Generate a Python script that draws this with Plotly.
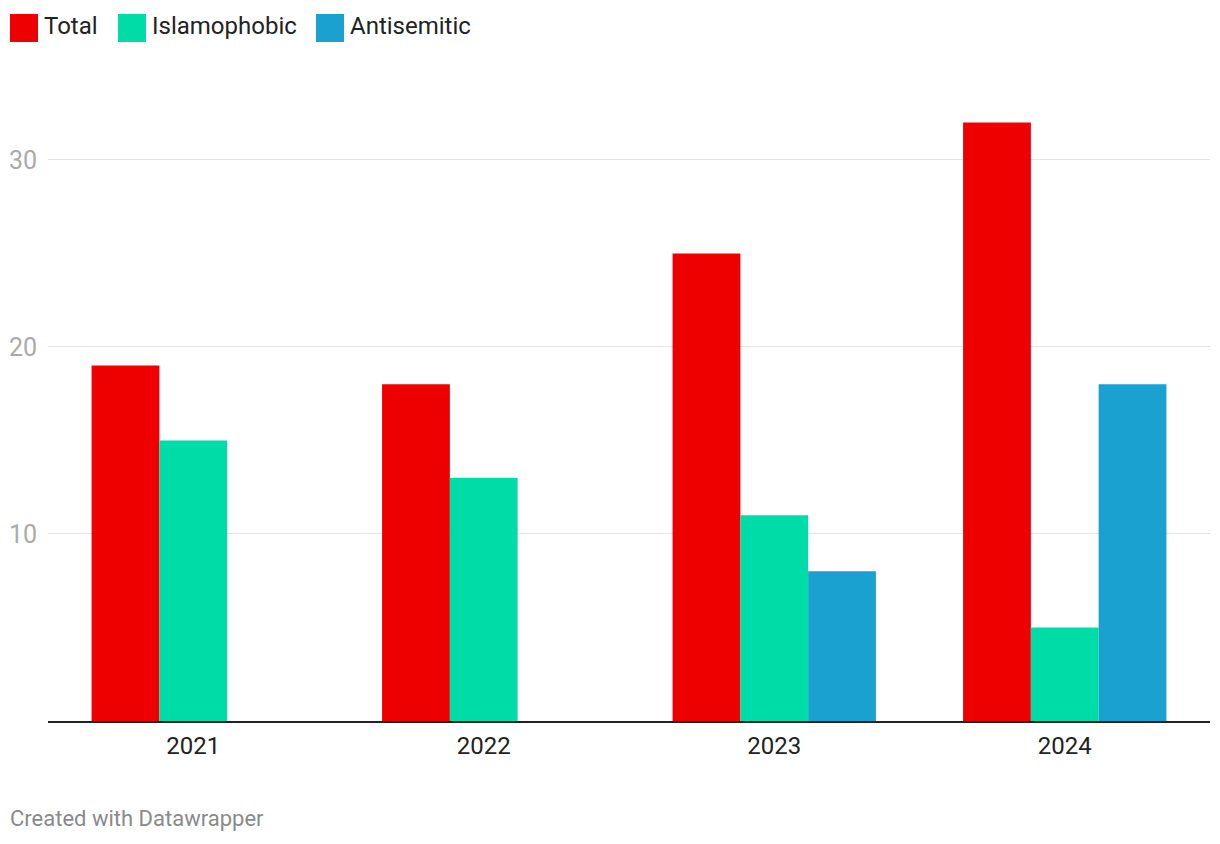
import plotly.graph_objects as go

years = ["2021", "2022", "2023", "2024"]
series_names = ["Total", "Islamophobic", "Antisemitic"]
total = [19, 18, 25, 32]
islamophobic = [15, 13, 11, 5]
antisemitic = [None, None, 8, 18]
colors = ["#ee0000", "#00dca8", "#1aa1cf"]
y_ticks = [10, 20, 30]

fig = go.Figure()
for name, vals, col in zip(series_names, [total, islamophobic, antisemitic], colors):
    fig.add_trace(go.Bar(x=years, y=vals, name=name, marker=dict(color=col, line=dict(width=0)),
                         showlegend=False, hoverinfo="x+y+name"))

W, H = 1220, 844
ml, mr, mt, mb = 48, 10, 100, 123

legend_x = [10, 118, 316]
shapes = []
annotations = []
pw = W - ml - mr
ph = H - mt - mb
def px_to_paper_x(px):
    return (px - ml) / pw
def px_to_paper_y(py):
    return (H - mb - py) / ph
for name, col, lx in zip(series_names, colors, legend_x):
    shapes.append(dict(type="rect", xref="paper", yref="paper",
                       x0=px_to_paper_x(lx), x1=px_to_paper_x(lx + 28),
                       y0=px_to_paper_y(42), y1=px_to_paper_y(14),
                       fillcolor=col, line=dict(width=0)))
    annotations.append(dict(text=name, xref="paper", yref="paper",
                            x=px_to_paper_x(lx + 32), y=px_to_paper_y(26),
                            xanchor="left", yanchor="middle", showarrow=False,
                            font=dict(family="Roboto", size=24, color="#222222")))

annotations.append(dict(text="Created with Datawrapper", xref="paper", yref="paper",
                        x=px_to_paper_x(8), y=px_to_paper_y(818),
                        xanchor="left", yanchor="middle", showarrow=False,
                        font=dict(family="Roboto", size=22, color="#8a8a8a")))

fig.update_layout(
    width=W, height=H,
    margin=dict(l=ml, r=mr, t=mt, b=mb, pad=0),
    paper_bgcolor="white", plot_bgcolor="white",
    barmode="group", bargap=0.3, bargroupgap=0,
    font=dict(family="Roboto", color="#222222"),
    shapes=shapes, annotations=annotations,
    showlegend=False,
)
fig.update_xaxes(showgrid=False, showline=True, linecolor="#222222", linewidth=2,
                 ticks="", tickfont=dict(size=24, color="#222222"),
                 ticklabelstandoff=2, zeroline=False, fixedrange=True)
fig.update_yaxes(range=[0, 33.2], tickvals=y_ticks, showgrid=True, gridcolor="#e3e3e3",
                 gridwidth=1, zeroline=False, showline=False, ticks="",
                 tickfont=dict(size=25, color="#aaaaaa"), ticklabelstandoff=10,
                 fixedrange=True)

fig.write_html("out.html", config={"displayModeBar": False},
               post_script="document.body.style.margin='0';document.body.style.overflow='hidden';")
